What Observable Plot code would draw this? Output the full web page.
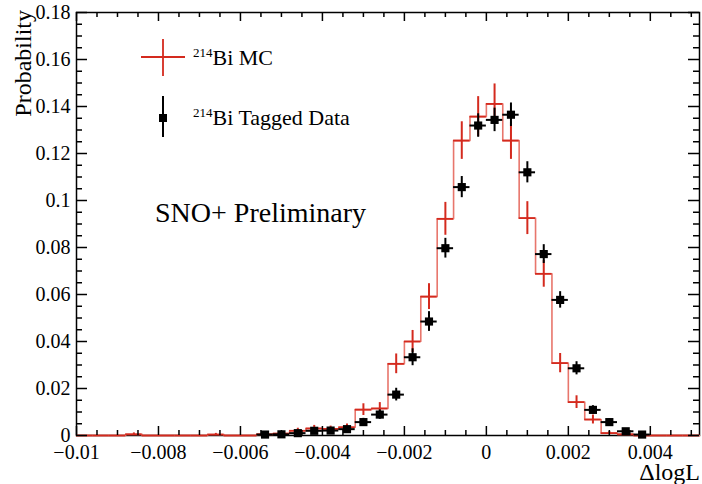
<!DOCTYPE html>
<html>
<head>
<meta charset="utf-8">
<script src="https://cdn.jsdelivr.net/npm/d3@7"></script>
<script src="https://cdn.jsdelivr.net/npm/@observablehq/plot@0.6"></script>
<style>
  html, body { margin: 0; padding: 0; background: white; }
  #chart svg { display: block; }
</style>
</head>
<body>
<div id="chart"></div>
<script>
// ---- Data ----
// 214Bi MC histogram: bin centers (bin width 0.0004, range -0.01 .. 0.0052)
const mcX = [-0.0098, -0.0094, -0.0090, -0.0086, -0.0082, -0.0078, -0.0074, -0.0070, -0.0066, -0.0062,
             -0.0058, -0.0054, -0.0050, -0.0046, -0.0042, -0.0038, -0.0034, -0.0030, -0.0026, -0.0022,
             -0.0018, -0.0014, -0.0010, -0.0006, -0.0002, 0.0002, 0.0006, 0.0010, 0.0014, 0.0018,
             0.0022, 0.0026, 0.0030, 0.0034, 0.0038, 0.0042, 0.0046, 0.0050];
const mcValue = [0, 0, 0, 0.0005, 0, 0, 0, 0, 0.0004, 0,
                 0, 0.0005, 0.0008, 0.0020, 0.0030, 0.0028, 0.0035, 0.0110, 0.0115, 0.0305,
                 0.0400, 0.0591, 0.0922, 0.1255, 0.1357, 0.1411, 0.1255, 0.0925, 0.0688, 0.0308,
                 0.0142, 0.0068, 0.0010, 0.0005, 0, 0, 0, 0];
const mcError = [0, 0, 0, 0.0006, 0, 0, 0, 0, 0.0005, 0,
                 0, 0.0006, 0.0007, 0.0011, 0.0013, 0.0012, 0.0014, 0.0025, 0.0025, 0.0042,
                 0.0047, 0.0055, 0.0070, 0.0080, 0.0085, 0.0085, 0.0080, 0.0070, 0.0057, 0.0041,
                 0.0027, 0.0019, 0.0007, 0.0005, 0, 0, 0, 0];
// 214Bi tagged data
const dataX = [-0.0054, -0.0050, -0.0046, -0.0042, -0.0038, -0.0034, -0.0030, -0.0026, -0.0022, -0.0018,
               -0.0014, -0.0010, -0.0006, -0.0002, 0.0002, 0.0006, 0.0010, 0.0014, 0.0018, 0.0022,
               0.0026, 0.0030, 0.0034, 0.0038];
const dataValue = [0.0004, 0.0005, 0.0010, 0.0020, 0.0021, 0.0027, 0.0057, 0.0089, 0.0174, 0.0333,
                   0.0485, 0.0797, 0.1057, 0.1319, 0.1343, 0.1365, 0.1120, 0.0772, 0.0577, 0.0286,
                   0.0109, 0.0057, 0.0018, 0.0004];
const dataError = [0.0005, 0.0006, 0.0008, 0.0010, 0.0010, 0.0012, 0.0016, 0.0020, 0.0027, 0.0036,
                   0.0042, 0.0042, 0.0045, 0.0050, 0.0050, 0.0050, 0.0045, 0.0040, 0.0035, 0.0028,
                   0.0018, 0.0014, 0.0009, 0.0005];
const binHalfWidth = 0.0002;
const xDomain = [-0.01, 0.0052];
const yDomain = [0, 0.18];
const xMajorTicks = [-0.01, -0.008, -0.006, -0.004, -0.002, 0, 0.002, 0.004];
const yMajorTicks = [0, 0.02, 0.04, 0.06, 0.08, 0.1, 0.12, 0.14, 0.16, 0.18];
const xMinorTicks = d3.range(-20, 11).map(i => i * 0.0005).filter(v => !xMajorTicks.some(t => Math.abs(t - v) < 1e-9));
const yMinorTicks = d3.range(0, 37).map(i => i * 0.005).filter(v => !yMajorTicks.some(t => Math.abs(t - v) < 1e-9));

// ---- Tables built from the arrays ----
const mcRows = mcX.map((x, i) => ({x, v: mcValue[i], e: mcError[i]}));
const dataRows = dataX.map((x, i) => ({x, v: dataValue[i], e: dataError[i]}));
const stepPts = [{x: xDomain[0], y: 0}];
mcRows.forEach(d => { stepPts.push({x: d.x - binHalfWidth, y: d.v}); stepPts.push({x: d.x + binHalfWidth, y: d.v}); });
stepPts.push({x: xDomain[1], y: 0});

// ---- Layout ----
const W = 702, H = 484, mL = 76, mR = 3, mT = 12, mB = 49;
const frameW = W - mL - mR, frameH = H - mT - mB;
const serif = "'Liberation Serif', 'Times New Roman', Times, serif";
const mcLine = "#e8766c", mcCross = "#d42a1e";
const fmtX = d => d === 0 ? "0" : (d < 0 ? "\u2212" : "") + String(+Math.abs(d).toFixed(4));
const fmtY = d => d === 0 ? "0" : String(+d.toFixed(2));

const chart = Plot.plot({
  width: W, height: H,
  marginLeft: mL, marginRight: mR, marginTop: mT, marginBottom: mB,
  style: {fontFamily: serif, fontSize: "20px", background: "white", color: "black"},
  x: {domain: xDomain},
  y: {domain: yDomain},
  marks: [
    Plot.frame({stroke: "black", strokeWidth: 1.5}),
    // MC histogram
    Plot.line(stepPts, {x: "x", y: "y", stroke: mcLine, strokeWidth: 1.6}),
    Plot.ruleY(mcRows, {x1: d => d.x - binHalfWidth, x2: d => d.x + binHalfWidth, y: "v", stroke: mcCross, strokeWidth: 1.8}),
    Plot.ruleX(mcRows.filter(d => d.e > 0), {x: "x", y1: d => Math.max(0, d.v - d.e), y2: d => d.v + d.e, stroke: mcCross, strokeWidth: 2}),
    // Tagged data
    Plot.ruleY(dataRows, {x1: d => d.x - binHalfWidth, x2: d => d.x + binHalfWidth, y: "v", stroke: "black", strokeWidth: 2}),
    Plot.ruleX(dataRows, {x: "x", y1: d => Math.max(0, d.v - d.e), y2: d => d.v + d.e, stroke: "black", strokeWidth: 2}),
    Plot.dot(dataRows, {x: "x", y: "v", symbol: "square", r: 4.6, fill: "black", stroke: "none"}),
    // inward ticks (bottom/top)
    Plot.tickX(xMajorTicks, {x: d => d, insetTop: frameH - 9, stroke: "black", strokeWidth: 1.5}),
    Plot.tickX(xMinorTicks, {x: d => d, insetTop: frameH - 5, stroke: "black", strokeWidth: 1.5}),
    Plot.tickX(xMajorTicks, {x: d => d, insetBottom: frameH - 9, stroke: "black", strokeWidth: 1.5}),
    Plot.tickX(xMinorTicks, {x: d => d, insetBottom: frameH - 5, stroke: "black", strokeWidth: 1.5}),
    // inward ticks (left/right)
    Plot.tickY(yMajorTicks, {y: d => d, insetRight: frameW - 11, stroke: "black", strokeWidth: 1.5}),
    Plot.tickY(yMinorTicks, {y: d => d, insetRight: frameW - 6, stroke: "black", strokeWidth: 1.5}),
    Plot.tickY(yMajorTicks, {y: d => d, insetLeft: frameW - 11, stroke: "black", strokeWidth: 1.5}),
    Plot.tickY(yMinorTicks, {y: d => d, insetLeft: frameW - 6, stroke: "black", strokeWidth: 1.5}),
    // labels
    Plot.axisX({ticks: xMajorTicks, tickSize: 0, tickPadding: 9, tickFormat: fmtX, fontSize: 20, label: null}),
    Plot.axisY({ticks: yMajorTicks, tickSize: 0, tickPadding: 6, tickFormat: fmtY, fontSize: 20, label: null})
  ]
});
document.getElementById("chart").appendChild(chart);

// ---- Titles, annotation and legend ----
const svg = d3.select(chart);
svg.append("text").attr("transform", "translate(31,10) rotate(-90)")
  .attr("text-anchor", "end").attr("font-family", serif).attr("font-size", 24).attr("fill", "black")
  .text("Probability");
svg.append("text").attr("x", 700).attr("y", 480).attr("text-anchor", "end")
  .attr("font-family", serif).attr("font-size", 24).attr("fill", "black").text("\u0394logL");
svg.append("text").attr("x", 155).attr("y", 222).attr("text-anchor", "start")
  .attr("font-family", serif).attr("font-size", 28).attr("fill", "black").text("SNO+ Preliminary");

// legend entry 1: MC
const lg = svg.append("g").attr("text-anchor", "start");
lg.append("line").attr("x1", 141).attr("x2", 185).attr("y1", 57).attr("y2", 57).attr("stroke", mcCross).attr("stroke-width", 1.8);
lg.append("line").attr("x1", 163).attr("x2", 163).attr("y1", 39).attr("y2", 76).attr("stroke", mcCross).attr("stroke-width", 1.8);
const t1 = lg.append("text").attr("x", 193).attr("y", 65).attr("text-anchor", "start").attr("font-family", serif).attr("font-size", 22).attr("fill", "black");
t1.append("tspan").attr("font-size", 13).attr("dy", -8).text("214");
t1.append("tspan").attr("dy", 8).text("Bi MC");
// legend entry 2: data
lg.append("line").attr("x1", 163).attr("x2", 163).attr("y1", 96).attr("y2", 137).attr("stroke", "black").attr("stroke-width", 2);
lg.append("rect").attr("x", 159).attr("y", 114).attr("width", 8).attr("height", 8).attr("fill", "black");
const t2 = lg.append("text").attr("x", 193).attr("y", 125).attr("text-anchor", "start").attr("font-family", serif).attr("font-size", 22).attr("fill", "black");
t2.append("tspan").attr("font-size", 13).attr("dy", -8).text("214");
t2.append("tspan").attr("dy", 8).text("Bi Tagged Data");
</script>
</body>
</html>
